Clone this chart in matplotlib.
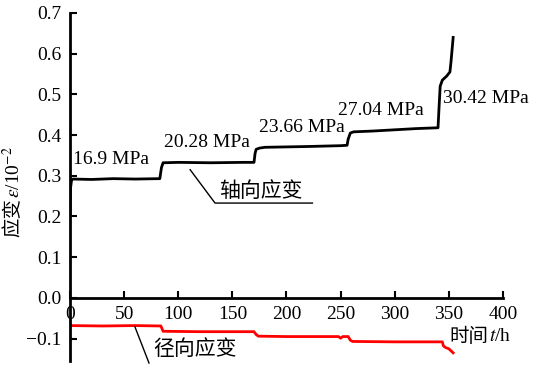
import matplotlib
matplotlib.use("Agg")
import matplotlib.pyplot as plt

plt.rcParams['font.family'] = ['Liberation Serif', 'Noto Sans CJK SC']
plt.rcParams['mathtext.fontset'] = 'stix'

# 轴向应变 (axial strain)
t_axial = [0, 0.5, 1.5, 3, 20, 40, 60, 83, 84.5, 86, 100, 130, 160, 170,
           171, 172, 175, 180, 220, 250, 256, 257, 259, 262, 280, 300, 320,
           340, 341, 342, 344, 348, 351, 352, 353, 354]
eps_axial = [0.205, 0.27, 0.29, 0.292, 0.291, 0.293, 0.292, 0.293, 0.32, 0.332,
             0.333, 0.332, 0.333, 0.333, 0.355, 0.365, 0.368, 0.37, 0.372,
             0.374, 0.375, 0.39, 0.405, 0.408, 0.41, 0.413, 0.416, 0.418,
             0.47, 0.52, 0.535, 0.545, 0.555, 0.58, 0.61, 0.64]

# 径向应变 (radial strain)
t_radial = [0, 30, 60, 84, 86, 120, 170, 172, 174, 200, 248, 250, 252, 257,
            259, 261, 300, 344, 345, 347, 350, 352, 354]
eps_radial = [-0.068, -0.069, -0.068, -0.069, -0.082, -0.083, -0.083, -0.09,
              -0.094, -0.095, -0.095, -0.099, -0.095, -0.095, -0.104, -0.107,
              -0.108, -0.108, -0.118, -0.122, -0.125, -0.130, -0.135]

stress_labels = ["16.9 MPa", "20.28 MPa", "23.66 MPa", "27.04 MPa", "30.42 MPa"]
stress_pos = [(3, 0.34), (87, 0.382), (175, 0.418), (248, 0.46), (345, 0.49)]

cjk = 'Noto Sans CJK SC'

fig = plt.figure(figsize=(5.35, 3.65), dpi=100)
ax = fig.add_axes([0.1308, 0.011, 0.8093, 0.9534])

ax.plot(t_axial, eps_axial, color='black', lw=2)
ax.plot(t_radial, eps_radial, color='red', lw=2)

ax.set_xlim(0, 400)
ax.set_ylim(-0.155, 0.7)
ax.spines['top'].set_visible(False)
ax.spines['right'].set_visible(False)
ax.spines['bottom'].set_position(('data', 0))
ax.spines['left'].set_linewidth(2)
ax.spines['bottom'].set_linewidth(2)

ax.set_xticks([0, 50, 100, 150, 200, 250, 300, 350, 400])
ax.set_yticks([-0.1, 0.0, 0.1, 0.2, 0.3, 0.4, 0.5, 0.6, 0.7])
ax.set_yticklabels(["\u22120.1", "0.0", "0.1", "0.2", "0.3", "0.4", "0.5", "0.6", "0.7"])
ax.tick_params(direction='in', length=5, width=1.5, labelsize=14)
ax.tick_params(axis='y', pad=6)
ax.tick_params(axis='x', pad=6)

for lab, (x, y) in zip(stress_labels, stress_pos):
    ax.text(x, y, lab, fontsize=14, ha='left', va='center')

# leader lines for the two curves
ax.plot([111, 134, 224], [0.315, 0.233, 0.233], color='black', lw=1)
ax.text(138, 0.262, "轴向应变", family=cjk, fontsize=15, ha='left', va='center')
ax.plot([60, 73], [-0.071, -0.16], color='black', lw=1, clip_on=False)
ax.text(77, -0.125, "径向应变", family=cjk, fontsize=15, ha='left', va='center')

# x axis title sits under the right end of the axis
ax.text(387, -0.096, "时间", family=cjk, fontsize=14, ha='right', va='center')
ax.text(387, -0.096, "$t$/h", fontsize=14, ha='left', va='center')

# y axis title, rotated, built from two pieces
yl = 1 - 198 / 365
fig.text(0.025, yl, "应变", family=cjk, fontsize=14, rotation=90,
         ha='center', va='top')
fig.text(0.025, yl, "$\\varepsilon$/10$^{-2}$", fontsize=14, rotation=90,
         ha='center', va='bottom')

fig.savefig("out.png", dpi=100)
